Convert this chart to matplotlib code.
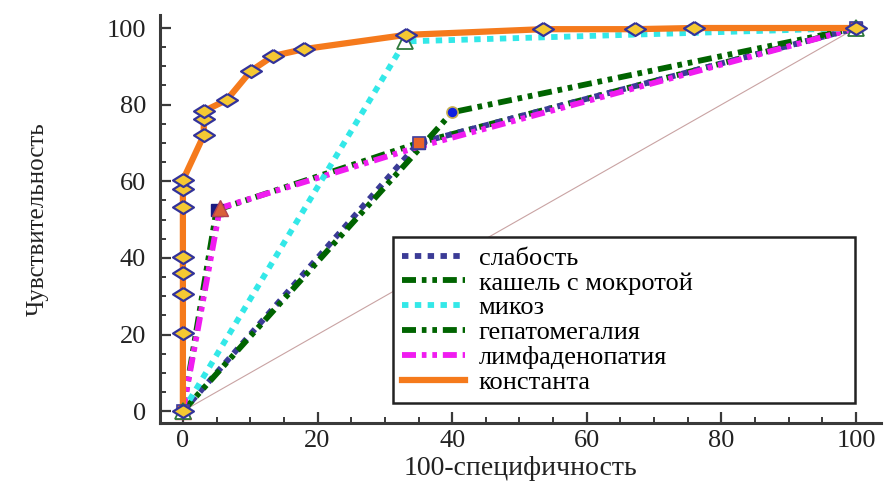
import matplotlib
matplotlib.use('Agg')
import matplotlib.pyplot as plt
from matplotlib.ticker import MultipleLocator

plt.rcParams['font.family'] = ['Liberation Serif', 'DejaVu Serif']

# ROC curves: x = 100 - specificity, y = sensitivity
weak_x = [0, 35, 100]
weak_y = [0, 70, 100]

cough_x = [0, 40, 100]
cough_y = [0, 78, 100]

mycosis_x = [0, 33, 100]
mycosis_y = [0, 96.5, 100]

hepato_x = [0, 5, 35, 100]
hepato_y = [0, 52.5, 70, 100]

lymph_x = [0, 5.5, 35, 100]
lymph_y = [0, 53, 69, 100]

const_x = [0, 0, 0, 0, 0, 0, 0, 0, 3.1, 3.1, 3.1, 6.5, 10.1, 13.4, 18, 33.1, 53.5, 67.2, 75.9, 100]
const_y = [0, 20.4, 30.5, 36, 40.2, 53.3, 58, 60.3, 72, 76.2, 78.3, 81.2, 88.8, 92.7, 94.5, 98.2, 99.7, 99.7, 100, 100]

labels = ['слабость', 'кашель с мокротой', 'микоз', 'гепатомегалия',
          'лимфаденопатия', 'константа']

fig = plt.figure(figsize=(8.84, 4.87), dpi=100)
ax = fig.add_axes([0.181, 0.1314, 0.8156, 0.8378])

dashdotdot = (0, (2.4, 1.0, 0.8, 1.0, 0.8, 1.0))
dotted = (0, (1.1, 1.1))

# reference diagonal
ax.plot([0, 100], [0, 100], color='#c9a3a3', lw=0.8, zorder=1)

ax.plot(hepato_x, hepato_y, color='#006400', lw=4.2, ls=dashdotdot,
        dash_capstyle='butt', zorder=2)
ax.plot(weak_x, weak_y, color='#3b3b96', lw=4.2, ls=dotted,
        dash_capstyle='butt', zorder=3)
ax.plot(cough_x, cough_y, color='#006400', lw=4.2, ls=dashdotdot,
        dash_capstyle='butt', zorder=3)
ax.plot(lymph_x, lymph_y, color='#f01cf0', lw=4.2, ls=dashdotdot,
        dash_capstyle='butt', zorder=3)
ax.plot(mycosis_x, mycosis_y, color='#33e8e8', lw=4.2, ls=dotted,
        dash_capstyle='butt', zorder=3)
ax.plot(const_x, const_y, color='#f57a1c', lw=4.5, zorder=4)

# point markers
ax.plot(hepato_x, hepato_y, ls='none', marker='s', ms=8, mfc='#1a1a80',
        mec='#1a1a80', zorder=5)
ax.plot(lymph_x[:2], lymph_y[:2], ls='none', marker='^', ms=11, mfc='#d9603a',
        mec='#b04050', zorder=5)
ax.plot(weak_x, weak_y, ls='none', marker='s', ms=8, mfc='#e8642c',
        mec='#4040a0', mew=1.2, zorder=6)
ax.plot(cough_x, cough_y, ls='none', marker='o', ms=8, mfc='#1020e0',
        mec='#c8b050', mew=1.2, zorder=6)
ax.plot(mycosis_x, mycosis_y, ls='none', marker='^', ms=11, mfc='white',
        mec='#2e7a3a', mew=1.3, zorder=6)

diamond = [(0, 1), (1.6, 0), (0, -1), (-1.6, 0), (0, 1)]
ax.plot(const_x, const_y, ls='none', marker=diamond, ms=15, mfc='#f5c832',
        mec='#33339a', mew=1.6, zorder=7)

# legend shows only the line styles
handles = [
    plt.Line2D([], [], color='#3b3b96', lw=4.2, ls=dotted, dash_capstyle='butt'),
    plt.Line2D([], [], color='#006400', lw=4.2, ls=dashdotdot, dash_capstyle='butt'),
    plt.Line2D([], [], color='#33e8e8', lw=4.2, ls=dotted, dash_capstyle='butt'),
    plt.Line2D([], [], color='#006400', lw=4.2, ls=dashdotdot, dash_capstyle='butt'),
    plt.Line2D([], [], color='#f01cf0', lw=4.2, ls=dashdotdot, dash_capstyle='butt'),
    plt.Line2D([], [], color='#f57a1c', lw=4.5),
]
leg = ax.legend(handles, labels, loc='lower left',
                bbox_to_anchor=(0.323, 0.049, 0.641, 0.417), mode='expand',
                fontsize=19, handlelength=2.4, handletextpad=0.5,
                labelspacing=0.05, borderpad=0.35, borderaxespad=0,
                fancybox=False, framealpha=1)
leg.get_frame().set_edgecolor('#222222')
leg.get_frame().set_linewidth(1.8)
leg.set_zorder(10)

ax.set_xlim(-3.4, 103.7)
ax.set_ylim(-3.1, 103.4)
ax.xaxis.set_major_locator(MultipleLocator(20))
ax.xaxis.set_minor_locator(MultipleLocator(5))
ax.yaxis.set_major_locator(MultipleLocator(20))
ax.yaxis.set_minor_locator(MultipleLocator(5))

for side in ['top', 'right']:
    ax.spines[side].set_visible(False)
for side in ['left', 'bottom']:
    ax.spines[side].set_linewidth(2.2)
    ax.spines[side].set_color('#3a3a3a')

ax.tick_params(which='major', direction='in', length=8, width=1.6,
               color='#3a3a3a', labelsize=19, labelcolor='#222222')
ax.tick_params(which='minor', direction='in', length=4.5, width=1.4,
               color='#3a3a3a')
ax.tick_params(axis='y', which='major', pad=10)
ax.tick_params(axis='x', which='major', pad=5)

ax.set_xlabel('100-специфичность', fontsize=20, color='#222222')
ax.set_ylabel('Чувствительность', fontsize=18, color='#222222')
ax.xaxis.set_label_coords(0.5, -0.08)
ax.yaxis.set_label_coords(-0.155, 0.5)

fig.savefig('out.png', dpi=100)
